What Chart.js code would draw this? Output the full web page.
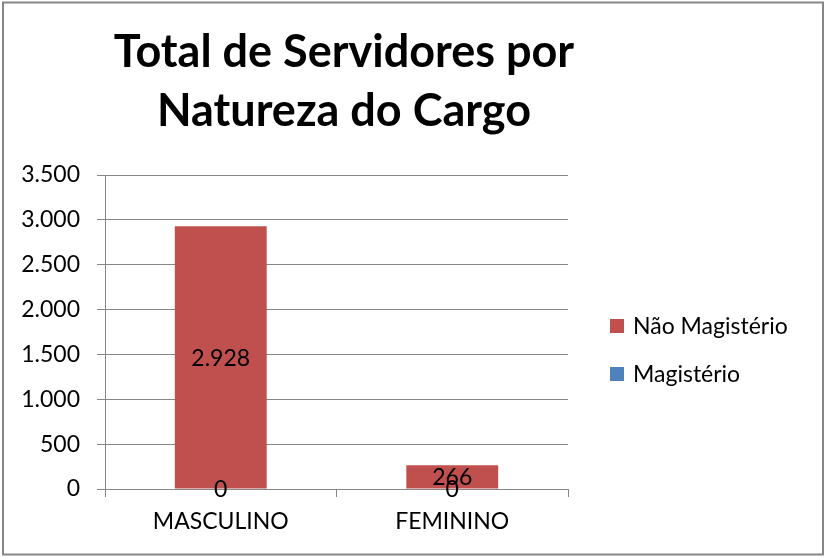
<!DOCTYPE html>
<html><head><meta charset="utf-8">
<script src="https://cdn.jsdelivr.net/npm/chart.js@4/dist/chart.umd.min.js"></script>
<style>html,body{margin:0;padding:0;background:#fff;} #wrap{width:824px;height:557px;position:relative;}</style>
</head><body><div id="wrap"><canvas id="c" width="824" height="557"></canvas></div>
<script>
const titleLines = ['Total de Servidores por', 'Natureza do Cargo'];
const categories = ['MASCULINO', 'FEMININO'];
const seriesNames = ['Magistério', 'Não Magistério'];
const magisterio = [0, 0];
const naoMagisterio = [2928, 266];
const yTickLabels = ['0', '500', '1.000', '1.500', '2.000', '2.500', '3.000', '3.500'];

const colors = ['#4F81BD', '#C0504D'];
const gridColor = '#868686';
const FONT = 'Lato';

function fmt(v) { return String(v).replace(/\B(?=(\d{3})+(?!\d))/g, '.'); }

const decorPlugin = {
  id: 'decor',
  beforeDraw(chart) {
    const ctx = chart.ctx;
    ctx.save();
    ctx.fillStyle = '#fff';
    ctx.fillRect(0, 0, chart.width, chart.height);
    ctx.restore();
  },
  afterDatasetsDraw(chart) {
    const ctx = chart.ctx;
    ctx.save();
    ctx.font = '23px ' + FONT;
    ctx.fillStyle = '#000';
    ctx.textAlign = 'center';
    ctx.textBaseline = 'middle';
    chart.data.datasets.forEach((ds, i) => {
      const meta = chart.getDatasetMeta(i);
      meta.data.forEach((el, j) => {
        const y = (el.y + el.base) / 2;
        ctx.fillText(fmt(ds.data[j]), el.x, y + 1);
      });
    });
    ctx.restore();
  },
  afterDraw(chart) {
    const ctx = chart.ctx;
    ctx.save();
    // title
    ctx.font = 'bold 45px ' + FONT;
    ctx.fillStyle = '#000';
    ctx.textAlign = 'center';
    ctx.textBaseline = 'alphabetic';
    ctx.fillText(titleLines[0], 344, 67);
    ctx.fillText(titleLines[1], 344, 126);
    // legend (reverse order like Excel stacked)
    ctx.font = '23px ' + FONT;
    ctx.textAlign = 'left';
    const ds = chart.data.datasets.slice().reverse();
    ds.forEach((d, k) => {
      const top = 319 + k * 48;
      ctx.fillStyle = d.backgroundColor;
      ctx.fillRect(610, top, 14, 14);
      ctx.fillStyle = '#000';
      ctx.fillText(d.label, 633, top + 15);
    });
    // outer border
    ctx.strokeStyle = gridColor;
    ctx.lineWidth = 2;
    ctx.strokeRect(3, 2.5, 820, 552);
    ctx.restore();
  }
};

new Chart(document.getElementById('c'), {
  type: 'bar',
  data: {
    labels: categories,
    datasets: [
      { label: seriesNames[0], data: magisterio, backgroundColor: colors[0] },
      { label: seriesNames[1], data: naoMagisterio, backgroundColor: colors[1] }
    ]
  },
  options: {
    responsive: false,
    animation: false,
    devicePixelRatio: 1,
    layout: { padding: { left: 0, top: 175, right: 256, bottom: 0 } },
    datasets: { bar: { categoryPercentage: 1, barPercentage: 0.397 } },
    plugins: { legend: { display: false }, title: { display: false }, tooltip: { enabled: false } },
    scales: {
      x: {
        stacked: true,
        offset: true,
        grid: { offset: true, drawOnChartArea: false, drawTicks: true, tickLength: 8, color: gridColor },
        border: { display: true, color: gridColor },
        ticks: { font: { family: FONT, size: 23 }, color: '#000', padding: 11, maxRotation: 0 },
        afterFit(s) { s.height = 68; }
      },
      y: {
        stacked: true,
        min: 0, max: 3500,
        ticks: { stepSize: 500, font: { family: FONT, size: 23 }, color: '#000', padding: 17,
          callback: (v, i) => yTickLabels[i] },
        grid: { color: gridColor, tickLength: 8, drawTicks: true },
        border: { display: true, color: gridColor },
        afterFit(s) { s.width = 105; }
      }
    }
  },
  plugins: [decorPlugin]
});
</script>
</body></html>
